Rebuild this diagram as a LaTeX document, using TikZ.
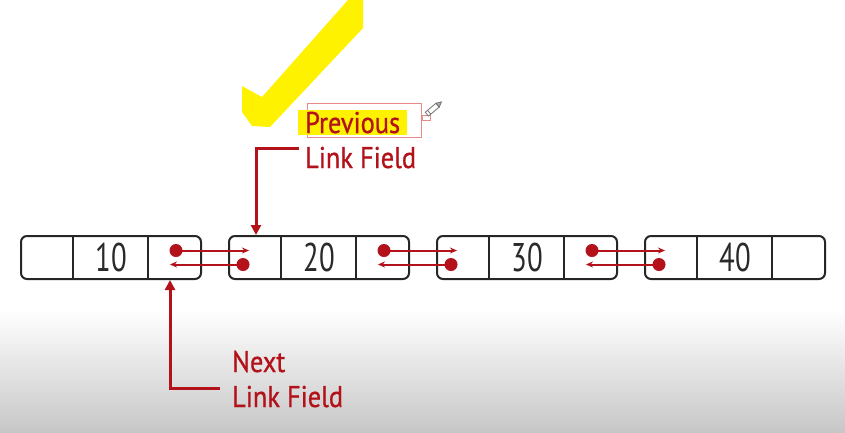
\documentclass[tikz,border=0pt]{standalone}
\usepackage{fontspec}
\setmainfont{PT Sans}
\newfontfamily\lblfont[FakeStretch=0.88,FakeBold=0.8]{PT Sans}
\newfontfamily\numfont[FakeStretch=0.72]{PT Sans}
\usetikzlibrary{arrows.meta}
\definecolor{lred}{HTML}{B3121A}
\definecolor{numgray}{HTML}{2A2A2A}
\definecolor{selpink}{HTML}{E88A8A}
\tikzset{
  listbox/.style={draw=black!85, line width=2pt, rounded corners=6pt, minimum width=180pt, minimum height=43pt, inner sep=0pt, anchor=north west},
  divider/.style={draw=black!85, line width=1.6pt},
  numtxt/.style={font=\numfont\fontsize{40}{44}\selectfont, text=numgray, inner sep=0pt},
  ptr/.style={draw=lred, line width=2pt, -{Stealth[length=7pt,width=6pt]}},
  ptrdot/.style={circle, fill=lred, minimum size=13pt, inner sep=0pt},
  callout/.style={draw=lred, line width=3pt, -{Triangle[length=10pt,width=10pt]}},
  lbl/.style={font=\lblfont\fontsize{30}{34}\selectfont, text=lred, inner sep=0pt, anchor=base west},
}
\begin{document}
\begin{tikzpicture}[x=1pt,y=-1pt]
\useasboundingbox (0,0) rectangle (845,432);
% background
\fill[white] (0,0) rectangle (845,310);
\shade[top color=white, bottom color=black!22] (0,310) rectangle (845,432);

% yellow check mark
\fill[yellow] (242,86) -- (262,97) -- (348,0) -- (363,0) -- (363,28) -- (270,127) -- (252,126) -- (242,112) -- cycle;

% list nodes
\foreach \i/\v in {1/10,2/20,3/30,4/40}{
  \pgfmathsetmacro{\xx}{20+208*(\i-1)}
  \node[listbox] (n\i) at (\xx,235) {};
  \draw[divider] ([xshift=53pt]n\i.north west) -- ([xshift=53pt]n\i.south west);
  \draw[divider] ([xshift=128pt]n\i.north west) -- ([xshift=128pt]n\i.south west);
  \node[numtxt] (d\i) at ([xshift=91pt]n\i.west) {\v};
  \coordinate (pc\i) at ([xshift=26pt]n\i.west);
  \coordinate (nc\i) at ([xshift=154pt]n\i.west);
}

% pointers between nodes
\foreach \i/\j in {1/2,2/3,3/4}{
  \node[ptrdot] (nd\i) at ([xshift=2pt,yshift=7pt]nc\i) {};
  \node[ptrdot] (pd\j) at ([xshift=-11pt,yshift=-7pt]pc\j) {};
  \coordinate (nt\i) at ([xshift=-5pt,yshift=7pt]pc\j);
  \coordinate (pt\j) at ([xshift=-4pt,yshift=-7pt]nc\i);
  \draw[ptr] (nd\i.center) -- (nt\i);
  \draw[ptr] (pd\j.center) -- (pt\j);
}

% selection box and pencil
\draw[selpink, line width=1pt] (307,103) rectangle (421,137);
\draw[selpink, line width=1pt, fill=white] (422,115) rectangle (430,120);
\begin{scope}[shift={(433,109)}, rotate=40]
  \draw[black!55, line width=0.8pt, fill=white] (-8,-2.5) rectangle (6,2.5);
  \draw[black!55, line width=0.8pt, fill=black!30] (6,-2.5) -- (11,0) -- (6,2.5) -- cycle;
  \draw[black!55, line width=0.8pt] (-5,-2.5) -- (-5,2.5);
\end{scope}

% highlight behind Previous
\fill[yellow] (298,110) rectangle (407,135);

% labels
\node[lbl] (prevA) at (305,133) {Previous};
\node[lbl] (prevB) at (305,168) {Link Field};
\node[lbl] (nextA) at (232,372) {Next};
\node[lbl] (nextB) at (232,407) {Link Field};

% callout arrows
\draw[callout] ([xshift=-6pt,yshift=9pt]prevB.west) -| ([xshift=2pt]pc2 |- n2.north);
\draw[callout] ([xshift=-12pt,yshift=8pt]nextB.west) -| ([xshift=-4pt]nc1 |- n1.south);
\end{tikzpicture}
\end{document}
